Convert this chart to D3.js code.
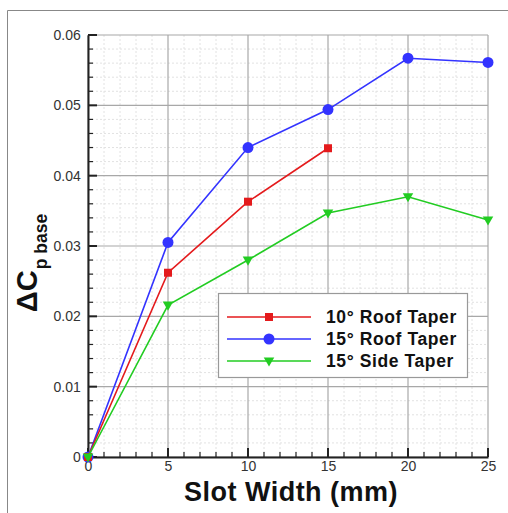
<!DOCTYPE html>
<html><head><meta charset="utf-8">
<script src="https://cdn.jsdelivr.net/npm/d3@7"></script>
<style>body{margin:0;background:#fff;} svg{display:block;}</style>
</head><body>
<script>
const slotWidth = [0, 5, 10, 15, 20, 25];
const roof10 = [0, 0.0262, 0.0363, 0.0439];
const roof15 = [0, 0.0305, 0.0440, 0.0494, 0.0567, 0.0561];
const side15 = [0, 0.0216, 0.0280, 0.0347, 0.0370, 0.0337];
const seriesNames = ["10\u00B0 Roof Taper", "15\u00B0 Roof Taper", "15\u00B0 Side Taper"];
const seriesColors = ["#e41a1c", "#3333ff", "#22cc22"];
const xTicks = [0, 5, 10, 15, 20, 25];
const yTicks = [0, 0.01, 0.02, 0.03, 0.04, 0.05, 0.06];
const yTickLabels = ["0", "0.01", "0.02", "0.03", "0.04", "0.05", "0.06"];

const W = 508, H = 513;
const svg = d3.select("body").append("svg").attr("width", W).attr("height", H);
const font = "'Liberation Sans', Arial, Helvetica, sans-serif";

// frame
svg.append("line").attr("x1", 7.5).attr("x2", W).attr("y1", 10.5).attr("y2", 10.5).attr("stroke", "#888").attr("stroke-width", 1);
svg.append("line").attr("x1", 7.5).attr("x2", 7.5).attr("y1", 10.5).attr("y2", H).attr("stroke", "#888").attr("stroke-width", 1);

const x = d3.scaleLinear().domain([0, 25]).range([88, 488]);
const y = d3.scaleLinear().domain([0, 0.06]).range([457, 35]);

const g = svg.append("g");
// minor grid
const xMinor = d3.range(0, 25.001, 1).filter(v => v % 5 !== 0);
const yMinor = d3.range(0, 0.0601, 0.002).filter((v, i) => i % 5 !== 0);
g.selectAll(".xmg").data(xMinor).enter().append("line")
  .attr("x1", d => x(d)).attr("x2", d => x(d)).attr("y1", y(0)).attr("y2", y(0.06))
  .attr("stroke", "#e2e2e2").attr("stroke-width", 1).attr("stroke-dasharray", "2,2");
g.selectAll(".ymg").data(yMinor).enter().append("line")
  .attr("y1", d => y(d)).attr("y2", d => y(d)).attr("x1", x(0)).attr("x2", x(25))
  .attr("stroke", "#e2e2e2").attr("stroke-width", 1).attr("stroke-dasharray", "2,2");
// major grid
g.selectAll(".xg").data(xTicks).enter().append("line")
  .attr("x1", d => x(d)).attr("x2", d => x(d)).attr("y1", y(0)).attr("y2", y(0.06))
  .attr("stroke", "#a8a8a8").attr("stroke-width", 1.2);
g.selectAll(".yg").data(yTicks).enter().append("line")
  .attr("y1", d => y(d)).attr("y2", d => y(d)).attr("x1", x(0)).attr("x2", x(25))
  .attr("stroke", "#a8a8a8").attr("stroke-width", 1.2);

// axes (inward ticks)
const xAxis = d3.axisBottom(x).tickValues(xTicks).tickSize(0).tickFormat(d3.format("d"));
const xa = svg.append("g").attr("transform", `translate(0,${y(0)})`).call(xAxis);
xa.select(".domain").attr("stroke", "#222").attr("stroke-width", 2);
xa.selectAll("text").attr("font-family", font).attr("font-size", 14).attr("fill", "#333").attr("dy", "0.8em");
svg.selectAll(".xmt").data(d3.range(0, 25.001, 1)).enter().append("line")
  .attr("x1", d => x(d)).attr("x2", d => x(d)).attr("y1", y(0)).attr("y2", d => y(0) - (d % 5 === 0 ? 9 : 5))
  .attr("stroke", "#222").attr("stroke-width", d => d % 5 === 0 ? 2 : 1.2);

const yAxis = d3.axisLeft(y).tickValues(yTicks).tickSize(0).tickFormat((d, i) => yTickLabels[i]);
const ya = svg.append("g").attr("transform", `translate(${x(0)},0)`).call(yAxis);
ya.select(".domain").attr("stroke", "#222").attr("stroke-width", 2);
ya.selectAll("text").attr("font-family", font).attr("font-size", 14).attr("fill", "#333").attr("dx", "-0.3em");
svg.selectAll(".ymt").data(d3.range(0, 31, 1)).enter().append("line")
  .attr("y1", d => y(d * 0.002)).attr("y2", d => y(d * 0.002)).attr("x1", x(0)).attr("x2", d => x(0) + (d % 5 === 0 ? 9 : 5))
  .attr("stroke", "#222").attr("stroke-width", d => d % 5 === 0 ? 2 : 1.2);

// titles
svg.append("text").attr("x", 291).attr("y", 501).attr("text-anchor", "middle")
  .attr("font-family", font).attr("font-weight", "bold").attr("font-size", 27).attr("fill", "#111")
  .attr("letter-spacing", 0.5)
  .text("Slot Width (mm)");
const yt = svg.append("text").attr("transform", "translate(37,263) rotate(-90)").attr("text-anchor", "middle")
  .attr("font-family", font).attr("font-weight", "bold").attr("fill", "#111");
yt.append("tspan").attr("font-size", 29).text("\u0394C");
yt.append("tspan").attr("font-size", 17.5).attr("dy", 10).attr("dx", 1).text("p base");

// series
const series = [roof10, roof15, side15];
const line = d3.line().x((d, i) => x(slotWidth[i])).y(d => y(d));
const triangle = d3.symbol().type(d3.symbolTriangle).size(48);
function marker(sel, k, cx, cy) {
  if (k === 0) sel.append("rect").attr("x", cx - 4).attr("y", cy - 4).attr("width", 8).attr("height", 8).attr("fill", seriesColors[k]);
  else if (k === 1) sel.append("circle").attr("cx", cx).attr("cy", cy).attr("r", 5.5).attr("fill", seriesColors[k]);
  else sel.append("path").attr("d", triangle()).attr("transform", `translate(${cx},${cy - 0.5}) rotate(180)`).attr("fill", seriesColors[k]);
}
[1, 0, 2].forEach(k => {
  const s = series[k];
  const sg = svg.append("g");
  sg.append("path").attr("d", line(s)).attr("fill", "none").attr("stroke", seriesColors[k]).attr("stroke-width", 1.6);
  s.forEach((v, i) => marker(sg, k, x(slotWidth[i]), y(v)));
});

// legend
const lg = svg.append("g");
lg.append("rect").attr("x", 218.5).attr("y", 293.5).attr("width", 249).attr("height", 84)
  .attr("fill", "#fff").attr("stroke", "#999").attr("stroke-width", 1.2);
seriesNames.forEach((n, k) => {
  const ly = 317 + k * 22;
  lg.append("line").attr("x1", 227).attr("x2", 311).attr("y1", ly).attr("y2", ly).attr("stroke", seriesColors[k]).attr("stroke-width", 1.6);
  marker(lg, k, 269, ly);
  lg.append("text").attr("x", 326).attr("y", ly + 6).attr("font-family", font).attr("font-weight", "bold")
    .attr("font-size", 17.5).attr("letter-spacing", 0.6).attr("fill", "#111").text(n);
});
</script>
</body></html>
